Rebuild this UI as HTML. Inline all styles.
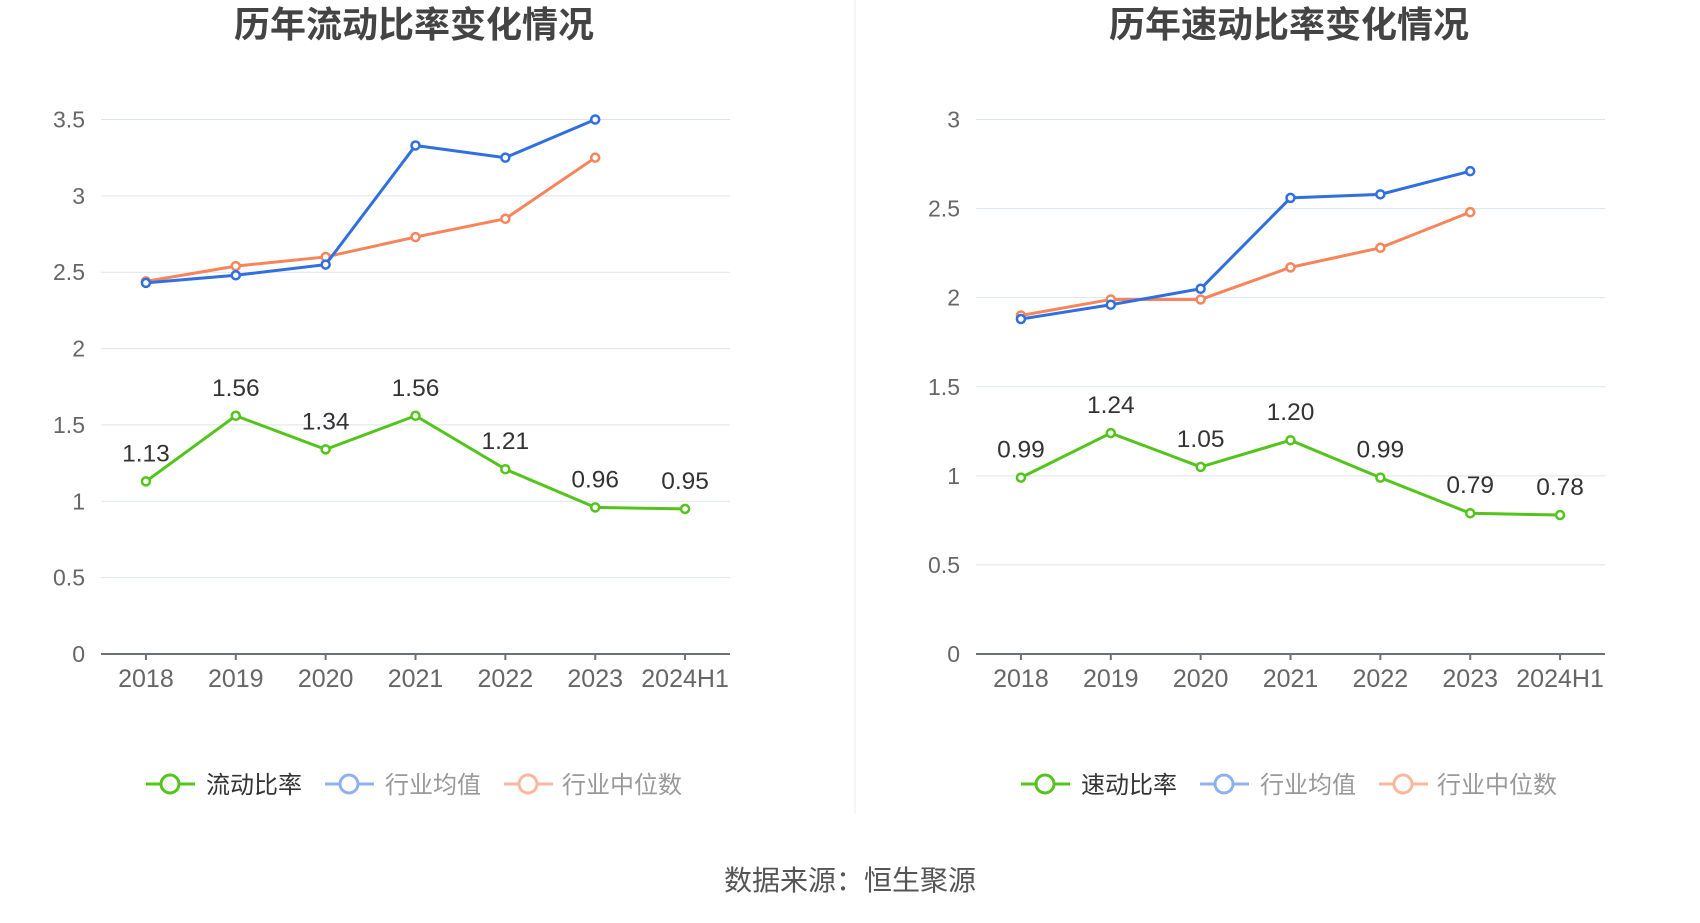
<!DOCTYPE html>
<html><head><meta charset="utf-8"><style>
body{margin:0;background:#fff;width:1700px;height:918px;overflow:hidden;font-family:"Liberation Sans","Noto Sans CJK SC",sans-serif}
</style></head><body>
<svg id="svg" width="1700" height="918" xmlns="http://www.w3.org/2000/svg" font-family="Liberation Sans, Noto Sans CJK SC, sans-serif">
<line x1="855" y1="0" x2="855" y2="814" stroke="#eee" stroke-width="1"/>
<text x="850" y="890" text-anchor="middle" font-size="28" fill="#555">数据来源：恒生聚源</text>
</svg>
<script>
const categories=['2018','2019','2020','2021','2022','2023','2024H1'];
const currentRatio=[1.13,1.56,1.34,1.56,1.21,0.96,0.95];
const currentAvg=[2.43,2.48,2.55,3.33,3.25,3.50];
const currentMedian=[2.44,2.54,2.60,2.73,2.85,3.25];
const currentTicks=[0,0.5,1,1.5,2,2.5,3,3.5];
const quickRatio=[0.99,1.24,1.05,1.20,0.99,0.79,0.78];
const quickAvg=[1.88,1.96,2.05,2.56,2.58,2.71];
const quickMedian=[1.90,1.99,1.99,2.17,2.28,2.48];
const quickTicks=[0,0.5,1,1.5,2,2.5,3];
const svg=document.getElementById('svg');
const NS='http://www.w3.org/2000/svg';
function mk(tag,attrs,parent){const e=document.createElementNS(NS,tag);for(const k in attrs)e.setAttribute(k,attrs[k]);(parent||svg).appendChild(e);return e;}
function chart(id,title,ox,ticks,main,avg,med,mainName){
  const g=mk('g',{});
  
  
  const x0=ox+101,x1=ox+730,yb=654,yt=119.5,max=ticks[ticks.length-1];
  const step=(x1-x0)/categories.length;
  const X=i=>x0+step*(i+0.5);
  const Y=v=>yb-(v/max)*(yb-yt);
  const t=mk('text',{x:ox+414,y:37,'text-anchor':'middle','font-size':36,'font-weight':'bold',fill:'#444'},g);t.textContent=title;
  
  
  ticks.forEach(v=>{
    if(v>0){const l=mk('line',{x1:x0,x2:x1,y1:Y(v),y2:Y(v),stroke:'#dde3ee','stroke-width':1},g);
    
    }
    const tx=mk('text',{x:x0-16,y:Y(v)+8,'text-anchor':'end','font-size':23,fill:'#666'},g);tx.textContent=String(v);
    
    
  });
  const ax=mk('line',{x1:x0,x2:x1,y1:yb,y2:yb,stroke:'#6e7079','stroke-width':2},g);
  
  
  categories.forEach((c,i)=>{
    mk('line',{x1:X(i),x2:X(i),y1:yb,y2:yb+6,stroke:'#6e7079','stroke-width':2},g);
    const tx=mk('text',{x:X(i),y:yb+33,'text-anchor':'middle','font-size':25,fill:'#666'},g);tx.textContent=c;
    
    
  });
  function series(vals,color,name,labels){
    const pts=vals.map((v,i)=>X(i)+','+Y(v)).join(' ');
    const pl=mk('polyline',{points:pts,fill:'none',stroke:color,'stroke-width':3},g);
    
    
    vals.forEach((v,i)=>{
      const c=mk('circle',{cx:X(i),cy:Y(v),r:4,fill:'#fff',stroke:color,'stroke-width':2.5},g);
      
      
      if(labels){const tx=mk('text',{x:X(i),y:Y(v)-20,'text-anchor':'middle','font-size':24.5,fill:'#333'},g);tx.textContent=v.toFixed(2);
      
      }
    });
  }
  series(med,'#f7845a','median',false);
  series(avg,'#2f6fe0','average',false);
  series(main,'#52c41a','main',true);
  const leg=[[mainName,'#52c41a','#333',146,206],['行业均值','#8fb0f0','#999',325,385],['行业中位数','#fbb79e','#999',504,562]];
  leg.forEach(l=>{
    const lg=mk('g',{},g);
    
    
    mk('line',{x1:ox+l[3],x2:ox+l[3]+49,y1:784,y2:784,stroke:l[1],'stroke-width':3},lg);
    mk('circle',{cx:ox+l[3]+24,cy:784,r:9,fill:'#fff',stroke:l[1],'stroke-width':3},lg);
    const tx=mk('text',{x:ox+l[4],y:793,'font-size':24,fill:l[2]},lg);tx.textContent=l[0];
  });
}
chart('current-ratio-chart','历年流动比率变化情况',0,currentTicks,currentRatio,currentAvg,currentMedian,'流动比率');
chart('quick-ratio-chart','历年速动比率变化情况',875,quickTicks,quickRatio,quickAvg,quickMedian,'速动比率');
</script>
</body></html>
